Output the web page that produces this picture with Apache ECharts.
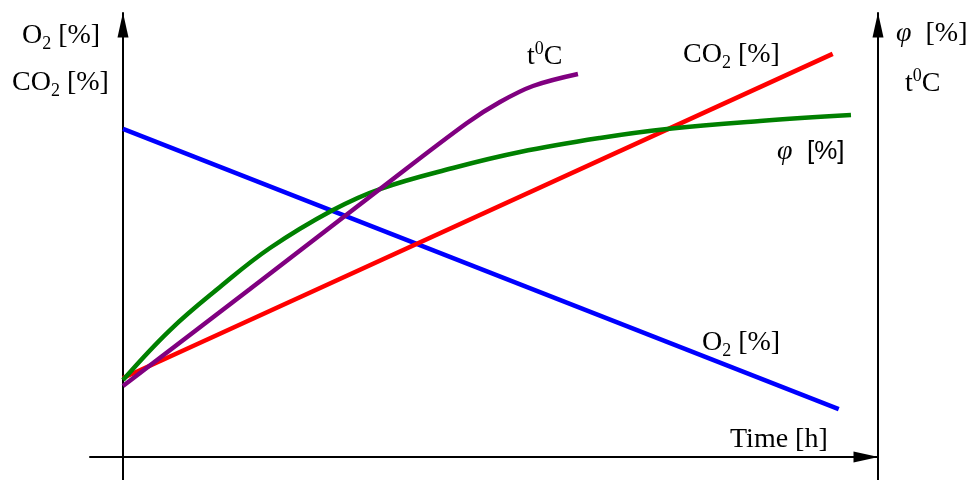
<!DOCTYPE html>
<html><head><meta charset="utf-8">
<script src="https://cdn.jsdelivr.net/npm/echarts@6/dist/echarts.min.js"></script>
<style>html,body{margin:0;padding:0;background:#fff}#c{width:976px;height:480px}</style>
</head><body><div id="c"></div>
<script>
// ---- data (x: time 0..100, y: relative value 0..100) ----
const o2Data   = [[0, 73.9], [94.8, 10.8]];
const co2Data  = [[0, 17.8], [94.0, 90.8]];
const phiData  = [[0, 17.34], [6.23, 28.6], [12.85, 38.29], [19.47, 47.07], [27.81, 55.63], [34.04, 60.36], [43.71, 65.09], [52.58, 68.69], [63.18, 71.85], [72.05, 73.87], [84.37, 75.68], [96.42, 77.03]];
const tempData = [[0, 15.99], [16.82, 37.84], [34.04, 60.36], [45.56, 75.23], [49.93, 79.95], [54.30, 83.56], [60.26, 86.26]];
const seriesNames = ['O2 [%]', 'CO2 [%]', 'φ [%]', 't0C'];
const axisTitles = ['{n|O}{s|2}{n| [%]}', '{n|CO}{s|2}{n| [%]}', '{g|φ}{n|  [%]}', '{n|t}{u|0}{n|C}', '{n|Time [h]}'];
const curveLabels = ['{n|t}{u|0}{n|C}', '{n|CO}{s|2}{n| [%]}', '{g|φ}{a|  [%]}', '{n|O}{s|2}{n| [%]}'];

const SERIF = '"Liberation Serif","Times New Roman",serif';
const SANS = '"Liberation Sans",Arial,sans-serif';
const rich = {
  n: {fontFamily: SERIF, fontSize: 28, lineHeight: 34, color: '#000'},
  s: {fontFamily: SERIF, fontSize: 18, lineHeight: 26, verticalAlign: 'bottom', color: '#000'},
  u: {fontFamily: SERIF, fontSize: 18, lineHeight: 18, verticalAlign: 'top', color: '#000'},
  g: {fontFamily: SERIF, fontSize: 28, fontStyle: 'italic', lineHeight: 34, color: '#000'},
  a: {fontFamily: SANS, fontSize: 26, lineHeight: 34, color: '#000'}
};
function txt(text, x, y) {
  return {type: 'text', x: x, y: y, silent: true, style: {text: text, rich: rich, fill: '#000'}};
}
const axisLineStyle = {color: '#000', width: 2};
function arrowLine(onZero) {
  return {show: true, onZero: onZero, symbol: ['none', 'triangle'], symbolSize: [11, 25], symbolOffset: [0, -12], lineStyle: axisLineStyle};
}
const chart = echarts.init(document.getElementById('c'), null, {renderer: 'canvas'});
const lineSeries = (name, data, color, smooth) => ({
  name: name, type: 'line', data: data, showSymbol: false, smooth: smooth, yAxisIndex: 0,
  lineStyle: {color: color, width: 4.5}, itemStyle: {color: color}, silent: true
});
chart.setOption({
  animation: false,
  backgroundColor: '#fff',
  grid: {left: 90, right: 98, top: 13, bottom: 0, containLabel: false},
  xAxis: {type: 'value', min: -4.37, max: 100, axisLine: arrowLine(true), axisTick: {show: false}, axisLabel: {show: false}, splitLine: {show: false}},
  yAxis: [
    {type: 'value', position: 'left', min: -5.18, max: 100, axisLine: arrowLine(true), axisTick: {show: false}, axisLabel: {show: false}, splitLine: {show: false}},
    {type: 'value', position: 'right', min: -5.18, max: 100, axisLine: arrowLine(false), axisTick: {show: false}, axisLabel: {show: false}, splitLine: {show: false}}
  ],
  series: [
    lineSeries(seriesNames[0], o2Data, '#0000ff', false),
    lineSeries(seriesNames[1], co2Data, '#ff0000', false),
    lineSeries(seriesNames[2], phiData, '#008000', 0.4),
    lineSeries(seriesNames[3], tempData, '#800080', 0.35)
  ],
  graphic: [
    txt(axisTitles[0], 22, 19),
    txt(axisTitles[1], 12, 66),
    txt(axisTitles[2], 896, 17),
    txt(axisTitles[3], 905, 67),
    txt(axisTitles[4], 730, 423),
    txt(curveLabels[0], 527, 40),
    txt(curveLabels[1], 683, 38),
    txt(curveLabels[2], 777, 135),
    txt(curveLabels[3], 702, 326)
  ]
});
</script></body></html>
